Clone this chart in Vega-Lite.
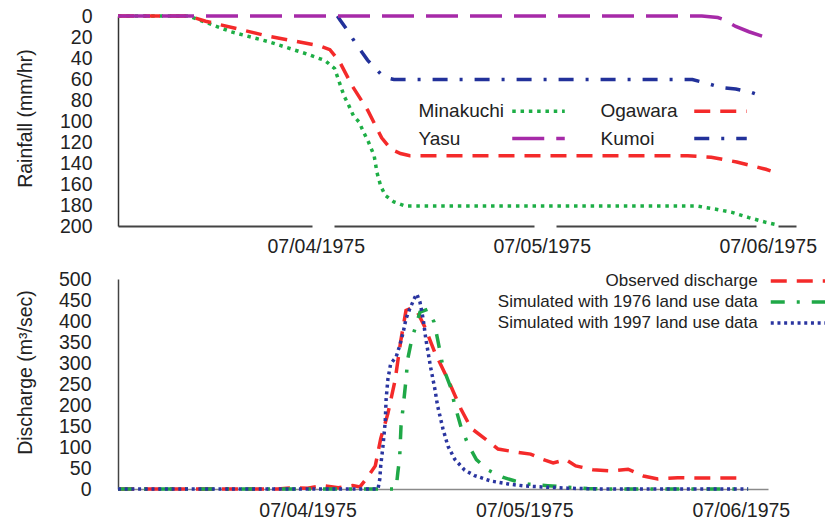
{
  "$schema": "https://vega.github.io/schema/vega-lite/v6.json",
  "padding": {"left": 14, "top": 6, "right": 0, "bottom": 0},
  "config": {
    "font": "Liberation Sans",
    "view": {"stroke": null},
    "axis": {"labelFont": "Liberation Sans", "titleFont": "Liberation Sans", "labelColor": "#222", "titleColor": "#222", "grid": false, "titleFontWeight": "normal", "labelOverlap": false},
    "legend": {"labelFont": "Liberation Sans", "labelColor": "#222", "labelLimit": 0}
  },
  "datasets": {
    "rain": [
      {"station": "Minakuchi", "time": "1975-07-03T03:00", "rain": 0},
      {"station": "Minakuchi", "time": "1975-07-03T10:30", "rain": 0},
      {"station": "Minakuchi", "time": "1975-07-03T12:00", "rain": 5},
      {"station": "Minakuchi", "time": "1975-07-03T15:00", "rain": 15},
      {"station": "Minakuchi", "time": "1975-07-03T19:00", "rain": 24.5},
      {"station": "Minakuchi", "time": "1975-07-03T23:00", "rain": 36},
      {"station": "Minakuchi", "time": "1975-07-04T01:00", "rain": 42.5},
      {"station": "Minakuchi", "time": "1975-07-04T02:00", "rain": 50},
      {"station": "Minakuchi", "time": "1975-07-04T02:30", "rain": 63},
      {"station": "Minakuchi", "time": "1975-07-04T03:00", "rain": 76},
      {"station": "Minakuchi", "time": "1975-07-04T03:30", "rain": 85},
      {"station": "Minakuchi", "time": "1975-07-04T04:00", "rain": 95},
      {"station": "Minakuchi", "time": "1975-07-04T04:36", "rain": 101},
      {"station": "Minakuchi", "time": "1975-07-04T05:06", "rain": 111},
      {"station": "Minakuchi", "time": "1975-07-04T05:36", "rain": 120},
      {"station": "Minakuchi", "time": "1975-07-04T06:12", "rain": 133},
      {"station": "Minakuchi", "time": "1975-07-04T06:30", "rain": 149},
      {"station": "Minakuchi", "time": "1975-07-04T06:54", "rain": 162},
      {"station": "Minakuchi", "time": "1975-07-04T07:24", "rain": 171},
      {"station": "Minakuchi", "time": "1975-07-04T08:18", "rain": 177},
      {"station": "Minakuchi", "time": "1975-07-04T09:30", "rain": 181},
      {"station": "Minakuchi", "time": "1975-07-04T11:00", "rain": 181},
      {"station": "Minakuchi", "time": "1975-07-05T16:30", "rain": 181},
      {"station": "Minakuchi", "time": "1975-07-05T18:30", "rain": 184},
      {"station": "Minakuchi", "time": "1975-07-05T20:12", "rain": 187},
      {"station": "Minakuchi", "time": "1975-07-05T22:00", "rain": 192},
      {"station": "Minakuchi", "time": "1975-07-05T23:48", "rain": 196.5},
      {"station": "Minakuchi", "time": "1975-07-06T01:00", "rain": 199},
      {"station": "Ogawara", "time": "1975-07-03T03:00", "rain": 0},
      {"station": "Ogawara", "time": "1975-07-03T10:30", "rain": 0},
      {"station": "Ogawara", "time": "1975-07-03T12:18", "rain": 5},
      {"station": "Ogawara", "time": "1975-07-03T15:48", "rain": 12.4},
      {"station": "Ogawara", "time": "1975-07-03T18:42", "rain": 18.7},
      {"station": "Ogawara", "time": "1975-07-03T21:30", "rain": 23.5},
      {"station": "Ogawara", "time": "1975-07-04T00:30", "rain": 28.6},
      {"station": "Ogawara", "time": "1975-07-04T01:30", "rain": 32},
      {"station": "Ogawara", "time": "1975-07-04T02:30", "rain": 43},
      {"station": "Ogawara", "time": "1975-07-04T03:54", "rain": 67},
      {"station": "Ogawara", "time": "1975-07-04T05:30", "rain": 89.5},
      {"station": "Ogawara", "time": "1975-07-04T07:00", "rain": 116},
      {"station": "Ogawara", "time": "1975-07-04T08:00", "rain": 127},
      {"station": "Ogawara", "time": "1975-07-04T09:00", "rain": 131},
      {"station": "Ogawara", "time": "1975-07-04T10:00", "rain": 133},
      {"station": "Ogawara", "time": "1975-07-05T15:30", "rain": 133},
      {"station": "Ogawara", "time": "1975-07-05T18:00", "rain": 134.5},
      {"station": "Ogawara", "time": "1975-07-05T20:42", "rain": 139},
      {"station": "Ogawara", "time": "1975-07-05T23:48", "rain": 146},
      {"station": "Ogawara", "time": "1975-07-06T00:18", "rain": 147.5},
      {"station": "Kumoi", "time": "1975-07-04T02:18", "rain": 0},
      {"station": "Kumoi", "time": "1975-07-04T02:36", "rain": 4},
      {"station": "Kumoi", "time": "1975-07-04T03:30", "rain": 15.5},
      {"station": "Kumoi", "time": "1975-07-04T04:18", "rain": 27},
      {"station": "Kumoi", "time": "1975-07-04T05:30", "rain": 42},
      {"station": "Kumoi", "time": "1975-07-04T07:12", "rain": 58},
      {"station": "Kumoi", "time": "1975-07-04T08:18", "rain": 60.5},
      {"station": "Kumoi", "time": "1975-07-05T16:00", "rain": 60.5},
      {"station": "Kumoi", "time": "1975-07-05T17:30", "rain": 64},
      {"station": "Kumoi", "time": "1975-07-05T19:00", "rain": 68},
      {"station": "Kumoi", "time": "1975-07-05T20:36", "rain": 69.5},
      {"station": "Kumoi", "time": "1975-07-05T22:12", "rain": 72.5},
      {"station": "Kumoi", "time": "1975-07-05T23:36", "rain": 77},
      {"station": "Yasu", "time": "1975-07-03T03:00", "rain": 0},
      {"station": "Yasu", "time": "1975-07-05T17:00", "rain": 0},
      {"station": "Yasu", "time": "1975-07-05T18:42", "rain": 1.5},
      {"station": "Yasu", "time": "1975-07-05T19:12", "rain": 3},
      {"station": "Yasu", "time": "1975-07-05T20:36", "rain": 10},
      {"station": "Yasu", "time": "1975-07-05T22:00", "rain": 15},
      {"station": "Yasu", "time": "1975-07-05T23:36", "rain": 19.7}
    ],
    "flow": [
      {"series": "Observed discharge", "time": "1975-07-03T03:00", "q": 0},
      {"series": "Observed discharge", "time": "1975-07-03T20:42", "q": 0},
      {"series": "Observed discharge", "time": "1975-07-03T22:24", "q": 3},
      {"series": "Observed discharge", "time": "1975-07-04T00:00", "q": 2},
      {"series": "Observed discharge", "time": "1975-07-04T01:42", "q": 8},
      {"series": "Observed discharge", "time": "1975-07-04T03:24", "q": 3},
      {"series": "Observed discharge", "time": "1975-07-04T05:00", "q": 8},
      {"series": "Observed discharge", "time": "1975-07-04T05:48", "q": 5},
      {"series": "Observed discharge", "time": "1975-07-04T06:42", "q": 30},
      {"series": "Observed discharge", "time": "1975-07-04T07:30", "q": 55},
      {"series": "Observed discharge", "time": "1975-07-04T08:06", "q": 120},
      {"series": "Observed discharge", "time": "1975-07-04T08:54", "q": 180},
      {"series": "Observed discharge", "time": "1975-07-04T09:42", "q": 260},
      {"series": "Observed discharge", "time": "1975-07-04T10:18", "q": 350},
      {"series": "Observed discharge", "time": "1975-07-04T10:54", "q": 425},
      {"series": "Observed discharge", "time": "1975-07-04T11:36", "q": 432},
      {"series": "Observed discharge", "time": "1975-07-04T12:12", "q": 420},
      {"series": "Observed discharge", "time": "1975-07-04T13:00", "q": 385},
      {"series": "Observed discharge", "time": "1975-07-04T14:06", "q": 325},
      {"series": "Observed discharge", "time": "1975-07-04T15:36", "q": 258},
      {"series": "Observed discharge", "time": "1975-07-04T17:00", "q": 190},
      {"series": "Observed discharge", "time": "1975-07-04T18:06", "q": 145},
      {"series": "Observed discharge", "time": "1975-07-04T19:42", "q": 119},
      {"series": "Observed discharge", "time": "1975-07-04T21:06", "q": 95},
      {"series": "Observed discharge", "time": "1975-07-04T22:48", "q": 89},
      {"series": "Observed discharge", "time": "1975-07-05T00:42", "q": 83},
      {"series": "Observed discharge", "time": "1975-07-05T02:06", "q": 70},
      {"series": "Observed discharge", "time": "1975-07-05T03:12", "q": 62},
      {"series": "Observed discharge", "time": "1975-07-05T04:36", "q": 70},
      {"series": "Observed discharge", "time": "1975-07-05T05:42", "q": 55},
      {"series": "Observed discharge", "time": "1975-07-05T07:36", "q": 46},
      {"series": "Observed discharge", "time": "1975-07-05T09:48", "q": 43},
      {"series": "Observed discharge", "time": "1975-07-05T11:30", "q": 47},
      {"series": "Observed discharge", "time": "1975-07-05T13:12", "q": 31},
      {"series": "Observed discharge", "time": "1975-07-05T14:48", "q": 24},
      {"series": "Observed discharge", "time": "1975-07-05T17:00", "q": 27},
      {"series": "Observed discharge", "time": "1975-07-05T20:24", "q": 26},
      {"series": "Observed discharge", "time": "1975-07-05T23:54", "q": 26},
      {"series": "Simulated with 1976 land use data", "time": "1975-07-03T03:00", "q": 0},
      {"series": "Simulated with 1976 land use data", "time": "1975-07-04T09:48", "q": 0},
      {"series": "Simulated with 1976 land use data", "time": "1975-07-04T10:00", "q": 40},
      {"series": "Simulated with 1976 land use data", "time": "1975-07-04T10:12", "q": 75},
      {"series": "Simulated with 1976 land use data", "time": "1975-07-04T10:21", "q": 150},
      {"series": "Simulated with 1976 land use data", "time": "1975-07-04T10:36", "q": 198},
      {"series": "Simulated with 1976 land use data", "time": "1975-07-04T10:54", "q": 260},
      {"series": "Simulated with 1976 land use data", "time": "1975-07-04T11:06", "q": 310},
      {"series": "Simulated with 1976 land use data", "time": "1975-07-04T11:30", "q": 352},
      {"series": "Simulated with 1976 land use data", "time": "1975-07-04T12:00", "q": 390},
      {"series": "Simulated with 1976 land use data", "time": "1975-07-04T12:27", "q": 421},
      {"series": "Simulated with 1976 land use data", "time": "1975-07-04T13:18", "q": 428},
      {"series": "Simulated with 1976 land use data", "time": "1975-07-04T14:00", "q": 398},
      {"series": "Simulated with 1976 land use data", "time": "1975-07-04T14:24", "q": 357},
      {"series": "Simulated with 1976 land use data", "time": "1975-07-04T15:00", "q": 290},
      {"series": "Simulated with 1976 land use data", "time": "1975-07-04T15:48", "q": 245},
      {"series": "Simulated with 1976 land use data", "time": "1975-07-04T16:18", "q": 200},
      {"series": "Simulated with 1976 land use data", "time": "1975-07-04T17:00", "q": 147},
      {"series": "Simulated with 1976 land use data", "time": "1975-07-04T17:48", "q": 105},
      {"series": "Simulated with 1976 land use data", "time": "1975-07-04T18:42", "q": 70},
      {"series": "Simulated with 1976 land use data", "time": "1975-07-04T20:00", "q": 45},
      {"series": "Simulated with 1976 land use data", "time": "1975-07-04T21:36", "q": 28},
      {"series": "Simulated with 1976 land use data", "time": "1975-07-04T23:00", "q": 19},
      {"series": "Simulated with 1976 land use data", "time": "1975-07-05T00:24", "q": 12},
      {"series": "Simulated with 1976 land use data", "time": "1975-07-05T02:36", "q": 8},
      {"series": "Simulated with 1976 land use data", "time": "1975-07-05T04:18", "q": 5},
      {"series": "Simulated with 1976 land use data", "time": "1975-07-05T07:00", "q": 1},
      {"series": "Simulated with 1976 land use data", "time": "1975-07-05T10:24", "q": 0},
      {"series": "Simulated with 1976 land use data", "time": "1975-07-06T00:48", "q": 0},
      {"series": "Simulated with 1997 land use data", "time": "1975-07-03T03:00", "q": 0},
      {"series": "Simulated with 1997 land use data", "time": "1975-07-04T07:48", "q": 0},
      {"series": "Simulated with 1997 land use data", "time": "1975-07-04T08:00", "q": 24},
      {"series": "Simulated with 1997 land use data", "time": "1975-07-04T08:06", "q": 55},
      {"series": "Simulated with 1997 land use data", "time": "1975-07-04T08:21", "q": 102},
      {"series": "Simulated with 1997 land use data", "time": "1975-07-04T08:36", "q": 160},
      {"series": "Simulated with 1997 land use data", "time": "1975-07-04T08:42", "q": 214},
      {"series": "Simulated with 1997 land use data", "time": "1975-07-04T08:54", "q": 262},
      {"series": "Simulated with 1997 land use data", "time": "1975-07-04T09:12", "q": 298},
      {"series": "Simulated with 1997 land use data", "time": "1975-07-04T09:48", "q": 314},
      {"series": "Simulated with 1997 land use data", "time": "1975-07-04T10:12", "q": 341},
      {"series": "Simulated with 1997 land use data", "time": "1975-07-04T10:36", "q": 374},
      {"series": "Simulated with 1997 land use data", "time": "1975-07-04T10:54", "q": 405},
      {"series": "Simulated with 1997 land use data", "time": "1975-07-04T11:18", "q": 428},
      {"series": "Simulated with 1997 land use data", "time": "1975-07-04T11:54", "q": 457},
      {"series": "Simulated with 1997 land use data", "time": "1975-07-04T12:06", "q": 464},
      {"series": "Simulated with 1997 land use data", "time": "1975-07-04T12:27", "q": 445},
      {"series": "Simulated with 1997 land use data", "time": "1975-07-04T12:48", "q": 405},
      {"series": "Simulated with 1997 land use data", "time": "1975-07-04T13:06", "q": 357},
      {"series": "Simulated with 1997 land use data", "time": "1975-07-04T13:36", "q": 293},
      {"series": "Simulated with 1997 land use data", "time": "1975-07-04T14:06", "q": 238},
      {"series": "Simulated with 1997 land use data", "time": "1975-07-04T14:24", "q": 198},
      {"series": "Simulated with 1997 land use data", "time": "1975-07-04T15:00", "q": 143},
      {"series": "Simulated with 1997 land use data", "time": "1975-07-04T15:33", "q": 102},
      {"series": "Simulated with 1997 land use data", "time": "1975-07-04T16:18", "q": 71},
      {"series": "Simulated with 1997 land use data", "time": "1975-07-04T17:24", "q": 45},
      {"series": "Simulated with 1997 land use data", "time": "1975-07-04T18:30", "q": 32},
      {"series": "Simulated with 1997 land use data", "time": "1975-07-04T20:18", "q": 19},
      {"series": "Simulated with 1997 land use data", "time": "1975-07-04T22:12", "q": 12},
      {"series": "Simulated with 1997 land use data", "time": "1975-07-05T00:06", "q": 7},
      {"series": "Simulated with 1997 land use data", "time": "1975-07-05T01:54", "q": 5},
      {"series": "Simulated with 1997 land use data", "time": "1975-07-05T04:48", "q": 2},
      {"series": "Simulated with 1997 land use data", "time": "1975-07-05T08:12", "q": 0},
      {"series": "Simulated with 1997 land use data", "time": "1975-07-06T00:48", "q": 0}
    ]
  },
  "bounds": "flush",
  "spacing": 53,
  "resolve": {"scale": {"color": "independent", "strokeDash": "independent"}, "legend": {"color": "independent", "strokeDash": "independent"}},
  "vconcat": [
    {
      "width": 678,
      "height": 210,
      "layer": [
        {
          "mark": {"type": "rule", "color": "#9a9a9a", "strokeWidth": 1.5},
          "encoding": {"y": {"datum": 0, "type": "quantitative",
            "axis": {
                "title": "Rainfall (mm/hr)", "titleFontSize": 19.5, "titlePadding": 26, "titleX": -83, "titleY": 102, "titleBaseline": "bottom", "titleAlign": "center",
                "values": [0, 20, 40, 60, 80, 100, 120, 140, 160, 180, 200],
                "labelFontSize": 19.5, "labelPadding": 26, "ticks": false, "labelOverlap": false,
                "domainColor": "#333", "domainWidth": 1.5
            }}}
        },
        {
          "data": {"name": "rain"},
          "mark": {"type": "line", "strokeWidth": 3.5, "strokeCap": "butt"},
          "encoding": {
            "x": {
              "field": "time", "type": "temporal",
              "scale": {"domain": [{"year": 1975, "month": 7, "date": 3, "hours": 3}, {"year": 1975, "month": 7, "date": 6, "hours": 3}]},
              "axis": {
                "title": null, "format": "%m/%d/%Y",
                "values": [{"year": 1975, "month": 7, "date": 4}, {"year": 1975, "month": 7, "date": 5}, {"year": 1975, "month": 7, "date": 6}],
                "labelFontSize": 19.5, "labelPadding": 11, "labelFlush": false, "ticks": false,
                "domainColor": "#444", "domainWidth": 2.2, "domainDash": [200, 22], "domainDashOffset": 6
              }
            },
            "y": {
              "field": "rain", "type": "quantitative",
              "scale": {"domain": [0, 200], "reverse": true, "nice": false},
              "axis": {
                "title": "Rainfall (mm/hr)", "titleFontSize": 19.5, "titlePadding": 26, "titleX": -83, "titleY": 102, "titleBaseline": "bottom", "titleAlign": "center",
                "values": [0, 20, 40, 60, 80, 100, 120, 140, 160, 180, 200],
                "labelFontSize": 19.5, "labelPadding": 26, "ticks": false, "labelOverlap": false,
                "domainColor": "#333", "domainWidth": 1.5
              }
            },
            "color": {
              "field": "station", "type": "nominal",
              "scale": {"domain": ["Minakuchi", "Yasu", "Ogawara", "Kumoi"], "range": ["#1dae45", "#a62aa8", "#f42a2a", "#22319a"]},
              "legend": {"orient": "none", "legendX": 411, "legendY": 85.5, "columns": 2, "title": null, "symbolType": "M-3.5,0H3.5", "symbolSize": 225, "symbolStrokeWidth": 3.5, "labelFontSize": 19, "labelOffset": -129.5, "labelAlign": "left", "columnPadding": 28, "rowPadding": 7.5}
            },
            "strokeDash": {
              "field": "station", "type": "nominal",
              "scale": {"domain": ["Minakuchi", "Yasu", "Ogawara", "Kumoi"], "range": [[3.5, 4.8], [32, 12], [16, 10], [15, 12, 3, 12]]},
              "legend": {"orient": "none", "legendX": 411, "legendY": 85.5, "columns": 2, "title": null, "symbolType": "M-3.5,0H3.5", "symbolSize": 225, "symbolStrokeWidth": 3.5, "labelFontSize": 19, "labelOffset": -129.5, "labelAlign": "left", "columnPadding": 28, "rowPadding": 7.5}
            }
          }
        }
      ]
    },
    {
      "width": 650,
      "height": 210,
      "data": {"name": "flow"},
      "mark": {"type": "line", "strokeWidth": 3.5, "strokeCap": "butt"},
      "encoding": {
        "x": {
          "field": "time", "type": "temporal",
          "scale": {"domain": [{"year": 1975, "month": 7, "date": 3, "hours": 3}, {"year": 1975, "month": 7, "date": 6, "hours": 3}]},
          "axis": {
            "title": null, "format": "%m/%d/%Y",
            "values": [{"year": 1975, "month": 7, "date": 4}, {"year": 1975, "month": 7, "date": 5}, {"year": 1975, "month": 7, "date": 6}],
            "labelFontSize": 19.5, "labelPadding": 12, "labelFlush": false, "ticks": false,
            "domainColor": "#8a8a8a", "domainWidth": 1.5
          }
        },
        "y": {
          "field": "q", "type": "quantitative",
          "scale": {"domain": [0, 500], "nice": false},
          "axis": {
            "title": "Discharge (m³/sec)", "titleFontSize": 19.5, "titlePadding": 26, "titleX": -83, "titleY": 93, "titleBaseline": "bottom", "titleAlign": "center",
            "values": [0, 50, 100, 150, 200, 250, 300, 350, 400, 450, 500],
            "labelFontSize": 19.5, "labelPadding": 27, "ticks": false, "labelOverlap": false,
            "domainColor": "#444", "domainWidth": 1.5
          }
        },
        "color": {
          "field": "series", "type": "nominal",
          "scale": {"domain": ["Observed discharge", "Simulated with 1976 land use data", "Simulated with 1997 land use data"], "range": ["#f42a2a", "#1fa847", "#2a35a0"]},
          "legend": {"orient": "none", "legendX": 672, "legendY": -8.5, "direction": "vertical", "title": null, "symbolType": "M-3.5,0H3.5", "symbolSize": 289, "symbolStrokeWidth": 3.5, "labelFontSize": 17, "labelOffset": -53.25, "labelAlign": "right", "rowPadding": 2}
        },
        "strokeDash": {
          "field": "series", "type": "nominal",
          "scale": {"domain": ["Observed discharge", "Simulated with 1976 land use data", "Simulated with 1997 land use data"], "range": [[16, 10], [14, 12, 3, 12], [3, 3.7]]},
          "legend": {"orient": "none", "legendX": 672, "legendY": -8.5, "direction": "vertical", "title": null, "symbolType": "M-3.5,0H3.5", "symbolSize": 289, "symbolStrokeWidth": 3.5, "labelFontSize": 17, "labelOffset": -53.25, "labelAlign": "right", "rowPadding": 2}
        }
      }
    }
  ]
}
